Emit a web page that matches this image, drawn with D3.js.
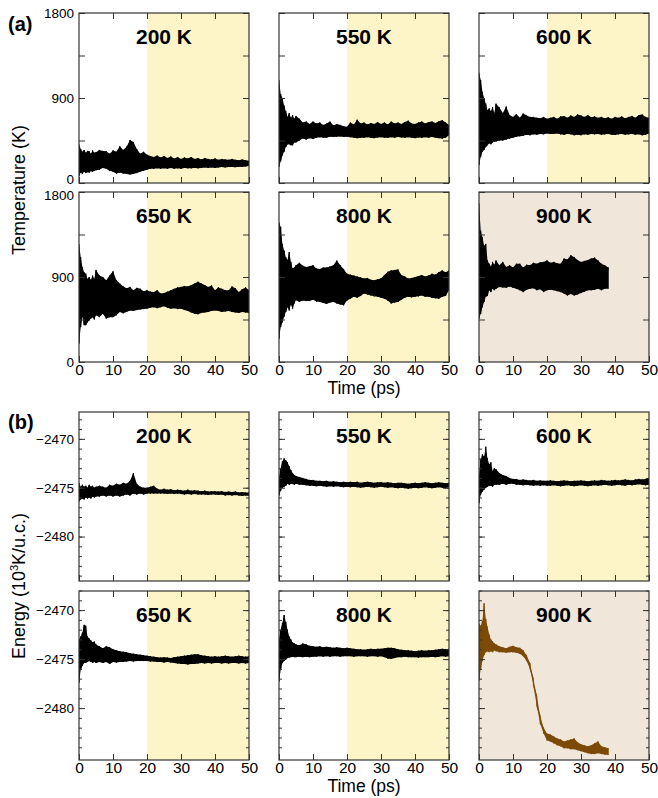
<!DOCTYPE html>
<html>
<head>
<meta charset="utf-8">
<script src="https://cdn.jsdelivr.net/npm/d3@7"></script>
<style>
  body { margin: 0; background: #fff; }
  text { font-family: "Liberation Sans", Arial, Helvetica, sans-serif; }
</style>
</head>
<body>
<svg id="chart" width="658" height="798"></svg>
<script>
// Sampling times (ps) of the min/max envelope of each trajectory
const timeSteps = [0,0.5,1,1.5,2,2.5,3,3.5,4,4.5,5,6,7,8,9,10,11,12,13,14,15,16,17,18,19,20,21,22,23,24,25,26,27,28,29,30,31,32,33,34,35,36,37,38,39,40,41,42,43,44,45,46,47,48,49,50];

const panelTitles = ["200 K", "550 K", "600 K", "650 K", "800 K", "900 K"];
const timeTicks = [0, 10, 20, 30, 40, 50];
const equilStart = 20;   // start of the averaging window (ps)
const tempTicks = [0, 450, 900, 1350, 1800];
const tempTickLabels = [0, 900, 1800];
const energyTickLabels = [-2480, -2475, -2470];
const energyMinorTicks = [-2484,-2483,-2482,-2481,-2480,-2479,-2478,-2477,-2476,-2475,-2474,-2473,-2472,-2471,-2470,-2469,-2468];

// Temperature (K): upper / lower envelope
const tempHi200 = [410,360,330,350,320,340,335,310,345,320,325,350,340,335,310,345,330,390,350,385,455,435,360,310,330,300,285,275,290,270,285,265,280,260,275,255,270,260,275,255,265,250,265,255,250,260,245,255,250,245,255,245,240,250,240,235];
const tempLo200 = [75,110,95,120,105,115,110,125,120,130,135,140,160,150,130,120,100,110,100,95,90,95,105,120,130,140,150,150,155,150,155,150,160,150,155,150,160,155,155,160,155,160,165,160,165,160,165,170,165,170,170,168,172,170,175,180];
const tempHi550 = [1090,940,900,820,760,700,740,690,720,680,710,680,640,650,625,650,630,640,615,630,650,610,625,615,600,595,640,620,670,630,640,620,635,625,645,625,640,620,650,630,640,625,645,660,630,625,640,650,630,645,650,635,655,665,640,615];
const tempLo550 = [170,230,290,330,380,410,410,400,400,430,430,450,470,460,475,465,480,485,480,478,490,488,490,492,488,490,485,480,475,480,478,485,480,475,482,485,480,478,485,480,488,482,478,485,480,475,482,478,485,480,488,480,475,470,480,505];
const tempHi600 = [1170,1090,965,900,840,770,790,760,805,740,840,800,740,810,720,700,730,690,735,715,700,700,690,685,700,680,690,700,680,705,710,690,715,700,725,715,700,720,695,705,690,700,685,695,680,700,690,705,685,700,710,690,720,725,700,690];
const tempLo600 = [190,275,330,350,380,400,420,410,430,440,440,450,450,460,470,480,490,495,500,510,505,515,510,520,515,525,520,520,525,515,510,520,515,505,510,505,515,510,520,515,520,510,515,520,512,508,515,520,512,515,520,512,515,505,510,525];
const tempHi650 = [1250,1110,1005,950,935,880,900,870,915,880,975,915,900,865,915,960,865,830,800,780,795,760,785,775,750,760,745,740,760,725,730,745,760,775,790,795,805,800,815,830,850,830,815,795,810,760,790,775,760,760,800,780,740,770,790,760];
const tempLo650 = [195,370,480,390,390,420,440,460,475,450,495,475,510,460,475,475,495,530,515,530,545,540,550,555,560,565,575,580,570,580,590,575,565,570,560,565,550,540,525,510,505,520,525,530,540,545,540,530,535,540,530,525,520,530,525,520];
const tempHi800 = [1480,1430,1250,1180,1110,1080,1165,1060,990,1000,1025,1050,1020,1005,1015,1025,990,985,1000,1000,1010,1025,1075,1025,985,935,925,915,905,895,885,890,870,865,875,885,920,955,970,975,980,920,905,885,890,900,910,920,905,915,935,925,950,970,950,970];
const tempLo800 = [245,370,420,480,530,580,545,610,565,620,655,635,650,645,645,660,640,635,625,615,630,635,620,610,600,650,670,690,680,700,725,715,705,695,690,680,670,650,620,630,635,660,680,690,685,690,695,705,690,690,680,675,670,690,700,760];
const tempHi900 = [1680,1390,1320,1230,1250,1075,1040,1010,1060,1030,1075,1025,1060,1005,1025,1000,1040,1040,1000,1030,1025,1050,1040,1055,1060,1075,1050,1060,1045,1040,1095,1085,1130,1110,1080,1060,1070,1080,1095,1105,1075,1040,1025,1000];
const tempLo900 = [460,510,580,635,690,700,760,740,775,760,775,795,790,785,800,785,775,760,740,765,775,780,760,770,740,760,765,760,750,740,725,705,720,705,715,730,745,760,760,765,775,760,775,775];

// Energy (10^3 K per unit cell): upper / lower envelope
const energyHi200 = [-2474.5,-2474.9,-2474.7,-2474.9,-2474.8,-2475.0,-2474.7,-2474.9,-2474.8,-2475.0,-2474.9,-2474.8,-2474.9,-2475.0,-2474.7,-2474.8,-2474.6,-2474.7,-2474.5,-2474.6,-2474.3,-2473.5,-2474.6,-2474.9,-2475.0,-2475.0,-2474.9,-2474.8,-2475.1,-2475.2,-2475.1,-2475.2,-2475.15,-2475.25,-2475.2,-2475.25,-2475.3,-2475.2,-2475.3,-2475.25,-2475.3,-2475.35,-2475.3,-2475.4,-2475.35,-2475.35,-2475.4,-2475.35,-2475.45,-2475.4,-2475.45,-2475.4,-2475.5,-2475.45,-2475.5,-2475.5];
const energyLo200 = [-2476.4,-2476.2,-2476.1,-2476.2,-2476.0,-2476.1,-2476.0,-2476.1,-2475.9,-2476.0,-2475.9,-2475.9,-2475.8,-2475.9,-2475.8,-2475.9,-2475.8,-2475.9,-2475.8,-2475.7,-2475.8,-2475.6,-2475.7,-2475.6,-2475.7,-2475.6,-2475.6,-2475.6,-2475.6,-2475.6,-2475.6,-2475.65,-2475.6,-2475.65,-2475.6,-2475.65,-2475.7,-2475.65,-2475.7,-2475.65,-2475.7,-2475.7,-2475.7,-2475.75,-2475.7,-2475.7,-2475.75,-2475.7,-2475.8,-2475.75,-2475.8,-2475.75,-2475.8,-2475.85,-2475.8,-2475.85];
const energyHi550 = [-2474.0,-2473.0,-2472.3,-2472.0,-2472.2,-2472.4,-2472.8,-2473.2,-2473.5,-2473.7,-2473.8,-2473.9,-2474.0,-2474.1,-2474.2,-2474.2,-2474.3,-2474.3,-2474.35,-2474.3,-2474.4,-2474.35,-2474.4,-2474.45,-2474.4,-2474.45,-2474.4,-2474.45,-2474.4,-2474.5,-2474.45,-2474.4,-2474.45,-2474.5,-2474.45,-2474.45,-2474.5,-2474.45,-2474.5,-2474.55,-2474.5,-2474.5,-2474.55,-2474.6,-2474.55,-2474.5,-2474.55,-2474.5,-2474.45,-2474.5,-2474.55,-2474.5,-2474.45,-2474.5,-2474.55,-2474.5];
const energyLo550 = [-2475.8,-2475.3,-2475.0,-2474.9,-2474.8,-2474.6,-2474.7,-2474.6,-2474.6,-2474.7,-2474.6,-2474.7,-2474.7,-2474.75,-2474.8,-2474.8,-2474.85,-2474.8,-2474.85,-2474.9,-2474.85,-2474.9,-2474.85,-2474.9,-2474.95,-2474.9,-2474.95,-2474.9,-2474.95,-2475.0,-2474.95,-2474.9,-2474.95,-2475.0,-2474.95,-2474.9,-2474.95,-2475.0,-2474.95,-2475.0,-2475.05,-2475.0,-2475.05,-2475.1,-2475.05,-2475.0,-2475.05,-2475.0,-2474.95,-2475.0,-2475.05,-2475.0,-2474.95,-2475.0,-2475.05,-2474.95];
const energyHi600 = [-2473.8,-2472.1,-2471.6,-2471.8,-2470.8,-2472.0,-2472.6,-2472.4,-2473.3,-2473.0,-2473.1,-2473.5,-2473.7,-2473.8,-2474.0,-2474.1,-2474.1,-2474.2,-2474.15,-2474.2,-2474.25,-2474.2,-2474.3,-2474.25,-2474.3,-2474.3,-2474.25,-2474.3,-2474.35,-2474.3,-2474.25,-2474.3,-2474.35,-2474.3,-2474.3,-2474.25,-2474.3,-2474.35,-2474.3,-2474.25,-2474.3,-2474.2,-2474.25,-2474.3,-2474.25,-2474.2,-2474.25,-2474.2,-2474.15,-2474.2,-2474.25,-2474.15,-2474.1,-2474.15,-2474.1,-2474.0];
const energyLo600 = [-2476.6,-2475.7,-2475.4,-2475.2,-2475.0,-2474.9,-2474.8,-2474.8,-2474.9,-2474.7,-2474.7,-2474.7,-2474.6,-2474.7,-2474.6,-2474.6,-2474.7,-2474.7,-2474.75,-2474.7,-2474.75,-2474.8,-2474.75,-2474.8,-2474.75,-2474.8,-2474.8,-2474.75,-2474.8,-2474.85,-2474.8,-2474.75,-2474.8,-2474.85,-2474.8,-2474.75,-2474.8,-2474.85,-2474.8,-2474.75,-2474.8,-2474.75,-2474.7,-2474.75,-2474.8,-2474.75,-2474.7,-2474.75,-2474.8,-2474.7,-2474.75,-2474.7,-2474.65,-2474.7,-2474.75,-2474.7];
const energyHi650 = [-2473.0,-2472.7,-2472.3,-2471.5,-2471.6,-2472.7,-2472.9,-2473.1,-2473.3,-2473.2,-2473.5,-2473.7,-2473.9,-2473.7,-2473.8,-2474.0,-2474.1,-2474.2,-2474.25,-2474.3,-2474.4,-2474.45,-2474.5,-2474.55,-2474.6,-2474.65,-2474.7,-2474.75,-2474.8,-2474.85,-2474.8,-2474.85,-2474.9,-2474.8,-2474.75,-2474.7,-2474.65,-2474.6,-2474.55,-2474.5,-2474.5,-2474.6,-2474.65,-2474.7,-2474.75,-2474.7,-2474.75,-2474.7,-2474.65,-2474.7,-2474.75,-2474.7,-2474.65,-2474.7,-2474.75,-2474.7];
const energyLo650 = [-2477.4,-2476.1,-2475.7,-2475.4,-2475.4,-2475.3,-2475.2,-2475.3,-2475.4,-2475.3,-2475.4,-2475.3,-2475.4,-2475.3,-2475.5,-2475.3,-2475.35,-2475.3,-2475.3,-2475.25,-2475.2,-2475.25,-2475.2,-2475.2,-2475.2,-2475.2,-2475.25,-2475.25,-2475.3,-2475.3,-2475.35,-2475.3,-2475.35,-2475.4,-2475.45,-2475.5,-2475.5,-2475.55,-2475.5,-2475.5,-2475.45,-2475.4,-2475.45,-2475.4,-2475.45,-2475.4,-2475.4,-2475.45,-2475.4,-2475.45,-2475.4,-2475.4,-2475.45,-2475.4,-2475.45,-2475.4];
const energyHi800 = [-2473.0,-2472.0,-2471.3,-2470.5,-2471.2,-2472.0,-2472.7,-2473.0,-2473.3,-2473.4,-2473.5,-2473.6,-2473.4,-2473.5,-2473.65,-2473.7,-2473.75,-2473.7,-2473.8,-2473.75,-2473.8,-2473.85,-2473.8,-2473.85,-2473.9,-2473.85,-2473.9,-2473.95,-2474.0,-2474.0,-2474.05,-2474.0,-2473.95,-2474.0,-2473.95,-2473.95,-2473.9,-2473.85,-2473.85,-2473.9,-2474.0,-2474.05,-2474.1,-2474.1,-2474.15,-2474.2,-2474.15,-2474.1,-2474.15,-2474.1,-2474.1,-2474.05,-2474.0,-2473.95,-2474.0,-2473.95];
const energyLo800 = [-2477.3,-2476.1,-2475.4,-2475.2,-2475.05,-2474.9,-2474.85,-2474.8,-2474.75,-2474.8,-2474.8,-2474.75,-2474.8,-2474.75,-2474.8,-2474.75,-2474.75,-2474.7,-2474.75,-2474.7,-2474.75,-2474.7,-2474.7,-2474.75,-2474.7,-2474.7,-2474.7,-2474.75,-2474.7,-2474.7,-2474.7,-2474.75,-2474.7,-2474.7,-2474.75,-2474.7,-2474.8,-2474.95,-2475.0,-2474.9,-2474.8,-2474.8,-2474.75,-2474.8,-2474.8,-2474.8,-2474.85,-2474.8,-2474.8,-2474.8,-2474.75,-2474.8,-2474.75,-2474.7,-2474.75,-2474.7];
const energyHi900 = [-2471.4,-2471.6,-2471.1,-2469.3,-2470.9,-2471.7,-2472.5,-2473.0,-2473.2,-2473.4,-2473.5,-2473.7,-2473.8,-2473.9,-2473.75,-2473.65,-2473.8,-2473.85,-2474.1,-2474.6,-2475.4,-2477.0,-2478.8,-2480.8,-2482.0,-2482.6,-2482.7,-2482.9,-2483.1,-2483.2,-2483.4,-2483.3,-2483.2,-2483.1,-2483.5,-2483.7,-2483.8,-2483.9,-2483.8,-2483.6,-2483.4,-2483.9,-2484.0,-2484.1];
const energyLo900 = [-2477.2,-2476.0,-2475.2,-2474.6,-2474.3,-2474.2,-2474.3,-2474.2,-2474.3,-2474.1,-2474.2,-2474.3,-2474.3,-2474.35,-2474.3,-2474.3,-2474.35,-2474.45,-2474.7,-2475.2,-2476.0,-2477.7,-2479.8,-2481.6,-2482.6,-2483.3,-2483.4,-2483.6,-2483.8,-2483.9,-2484.1,-2484.1,-2484.2,-2484.2,-2484.3,-2484.4,-2484.5,-2484.6,-2484.7,-2484.7,-2484.6,-2484.7,-2484.75,-2484.8];

const tempSeries = [[tempHi200, tempLo200], [tempHi550, tempLo550], [tempHi600, tempLo600],
                    [tempHi650, tempLo650], [tempHi800, tempLo800], [tempHi900, tempLo900]];
const energySeries = [[energyHi200, energyLo200], [energyHi550, energyLo550], [energyHi600, energyLo600],
                      [energyHi650, energyLo650], [energyHi800, energyLo800], [energyHi900, energyLo900]];

// ---- layout & style ----
const svg = d3.select("#chart");
const colX = [79, 279, 479];
const panelW = 170;
const frameColor = "#333";
const equilFill = "#fdf5c8";
const meltFill = "#f0e6da";
const traceColor = "#000";
const meltTraceColor = "#7c4a06";
const fmtEnergy = d3.format("d");

let clipCount = 0;

function drawPanel(o) {
  const x = d3.scaleLinear().domain([0, 50]).range([o.x0, o.x0 + panelW]);
  const y = d3.scaleLinear().domain(o.yDomain).range([o.y0 + o.h, o.y0]);
  const g = svg.append("g");

  const clipId = "clip" + (clipCount++);
  g.append("clipPath").attr("id", clipId)
    .append("rect").attr("x", o.x0).attr("y", o.y0).attr("width", panelW).attr("height", o.h);

  // background and averaging window
  g.append("rect").attr("x", o.x0).attr("y", o.y0).attr("width", panelW).attr("height", o.h)
    .attr("fill", o.melted ? meltFill : "#fff");
  if (!o.melted) {
    g.append("rect").attr("x", x(equilStart)).attr("y", o.y0)
      .attr("width", x(50) - x(equilStart)).attr("height", o.h).attr("fill", equilFill);
  }

  // trajectory: envelope band plus zig-zag between extremes
  const n = o.hi.length;
  const pts = timeSteps.slice(0, n).map((t, i) => ({ t, hi: o.hi[i], lo: o.lo[i] }));
  const color = o.color || traceColor;
  const dg = g.append("g").attr("clip-path", `url(#${clipId})`);
  dg.append("path").datum(pts)
    .attr("d", d3.area().x(d => x(d.t)).y0(d => y(d.lo)).y1(d => y(d.hi)))
    .attr("fill", color);
  const zig = pts.flatMap(d => [{ t: d.t, v: d.hi }, { t: d.t, v: d.lo }]);
  dg.append("path").datum(zig)
    .attr("d", d3.line().x(d => x(d.t)).y(d => y(d.v)))
    .attr("fill", "none").attr("stroke", color).attr("stroke-width", 1)
    .attr("stroke-linejoin", "round");

  // ticks, all pointing inward
  const styleAxis = sel => {
    sel.select(".domain").remove();
    sel.selectAll(".tick line").attr("stroke", frameColor).attr("stroke-width", 1);
    sel.selectAll(".tick text").attr("fill", "#000").attr("font-family", "Liberation Sans, Arial, sans-serif");
  };
  const yMajorFmt = o.showYLabels ? o.yFmt : () => "";
  const [yMin, yMax] = [d3.min(o.yMajor), d3.max(o.yMajor)];
  // end labels of the two stacked temperature panels sit close together
  const nudge = d => (d === yMin && o.nudgeMin ? "translate(0,-3.5)" : d === yMax && o.nudgeMax ? "translate(0,3)" : null);
  g.append("g").attr("transform", `translate(${o.x0},0)`)
    .call(d3.axisLeft(y).tickValues(o.yMajor).tickSizeInner(-6).tickSizeOuter(0).tickPadding(5).tickFormat(yMajorFmt))
    .call(styleAxis)
    .selectAll("text").attr("font-size", 13.5).attr("transform", nudge);
  g.append("g").attr("transform", `translate(${o.x0 + panelW},0)`)
    .call(d3.axisRight(y).tickValues(o.yMajor).tickSizeInner(-6).tickSizeOuter(0).tickFormat(() => ""))
    .call(styleAxis);
  if (o.yMinor) {
    g.append("g").attr("transform", `translate(${o.x0},0)`)
      .call(d3.axisLeft(y).tickValues(o.yMinor).tickSizeInner(-3).tickSizeOuter(0).tickFormat(() => ""))
      .call(styleAxis);
    g.append("g").attr("transform", `translate(${o.x0 + panelW},0)`)
      .call(d3.axisRight(y).tickValues(o.yMinor).tickSizeInner(-3).tickSizeOuter(0).tickFormat(() => ""))
      .call(styleAxis);
  }
  g.append("g").attr("transform", `translate(0,${o.y0})`)
    .call(d3.axisTop(x).tickValues(timeTicks.slice(1, -1)).tickSizeInner(-6).tickSizeOuter(0).tickFormat(() => ""))
    .call(styleAxis);
  g.append("g").attr("transform", `translate(0,${o.y0 + o.h})`)
    .call(d3.axisBottom(x).tickValues(timeTicks).tickSizeInner(-6).tickSizeOuter(0).tickPadding(2)
      .tickFormat(o.showXLabels ? d3.format("d") : () => ""))
    .call(styleAxis).selectAll("text").attr("font-size", 15.5);

  // frame
  g.append("rect").attr("x", o.x0).attr("y", o.y0).attr("width", panelW).attr("height", o.h)
    .attr("fill", "none").attr("stroke", frameColor).attr("stroke-width", 1.2);

  // panel title
  g.append("text").attr("x", (x(0) + x(50)) / 2).attr("y", o.y0 + 31)
    .attr("text-anchor", "middle").attr("font-size", 21).attr("font-weight", "bold")
    .text(o.title);
}

// (a) temperature, (b) energy
const tempRows = [13, 192];
const energyRows = [412, 591];
const energyDomains = [[-2484.55, -2467.25], [-2485.3, -2468.05]];

panelTitles.forEach((title, i) => {
  const row = Math.floor(i / 3), col = i % 3;
  const melted = i === 5;
  drawPanel({
    x0: colX[col], y0: tempRows[row], h: 170, yDomain: [0, 1800],
    hi: tempSeries[i][0], lo: tempSeries[i][1], title, melted,
    yMajor: tempTicks, yFmt: d => (tempTickLabels.includes(d) ? d : ""),
    showYLabels: col === 0, showXLabels: row === 1,
    nudgeMin: row === 0, nudgeMax: row === 1
  });
  drawPanel({
    x0: colX[col], y0: energyRows[row], h: 169, yDomain: energyDomains[row],
    hi: energySeries[i][0], lo: energySeries[i][1], title, melted,
    color: melted ? meltTraceColor : traceColor,
    yMajor: energyTickLabels, yMinor: energyMinorTicks, yFmt: fmtEnergy,
    showYLabels: col === 0, showXLabels: row === 1
  });
});

// section labels and axis titles
svg.append("text").attr("x", 8).attr("y", 31).attr("font-size", 20).attr("font-weight", "bold").text("(a)");
svg.append("text").attr("x", 8).attr("y", 429).attr("font-size", 20).attr("font-weight", "bold").text("(b)");

svg.append("text").attr("x", 364).attr("y", 394).attr("text-anchor", "middle").attr("font-size", 17.5).text("Time (ps)");
svg.append("text").attr("x", 364).attr("y", 792).attr("text-anchor", "middle").attr("font-size", 17.5).text("Time (ps)");

svg.append("text").attr("transform", "translate(25,190) rotate(-90)")
  .attr("text-anchor", "middle").attr("font-size", 18).text("Temperature (K)");
const eLabel = svg.append("text").attr("transform", "translate(25,586) rotate(-90)")
  .attr("text-anchor", "middle").attr("font-size", 18);
eLabel.append("tspan").text("Energy (10");
eLabel.append("tspan").attr("font-size", 11).attr("dy", -7).text("3");
eLabel.append("tspan").attr("dy", 7).text("K/u.c.)");
</script>
</body>
</html>
